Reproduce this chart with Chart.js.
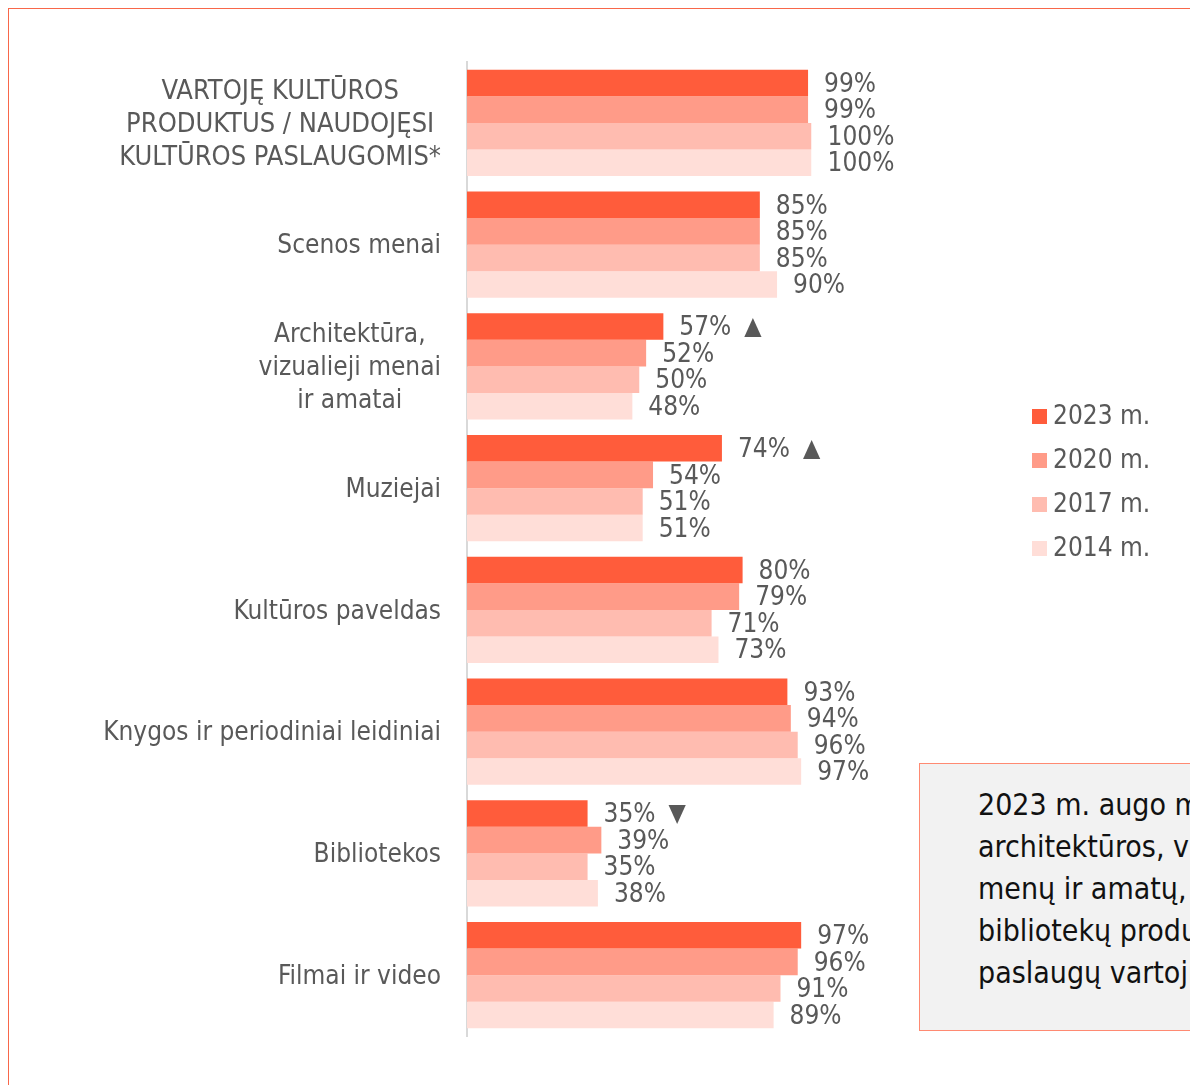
<!DOCTYPE html>
<html>
<head>
<meta charset="utf-8">
<script src="https://cdn.jsdelivr.net/npm/chart.js@4/dist/chart.umd.min.js"></script>
<style>
  html, body { margin: 0; padding: 0; background: #fff; overflow: hidden; width: 1190px; height: 1085px; }
  #frame { position: absolute; left: 8px; top: 8px; width: 1400px; height: 1300px; border: 1.5px solid #F8674A; box-sizing: border-box; }
  #wrap { position: absolute; left: 0; top: 0; width: 1190px; height: 1085px; }
  #note {
    position: absolute; left: 919px; top: 763px; width: 420px; height: 268px;
    background: #F2F2F2; border: 1.5px solid #FF8A72; box-sizing: border-box;
    font-family: "DejaVu Sans Condensed", "DejaVu Sans", sans-serif; font-size: 30px;
    line-height: 42px; color: #111; padding: 20px 0 0 58px; white-space: nowrap;
  }
</style>
</head>
<body>
<div id="frame"></div>
<div id="wrap"><canvas id="chart" width="1190" height="1085"></canvas></div>
<div id="note">2023 m. augo muziejų,<br>architektūros, vizualiųjų<br>menų ir amatų, o mažėjo<br>bibliotekų produktų ir<br>paslaugų vartojimas.</div>
<script>
document.addEventListener("DOMContentLoaded", function () {
  const ctx = document.getElementById('chart').getContext('2d');

  // categories (one entry per line of the label)
  const categories = [
    ['VARTOJĘ KULTŪROS', 'PRODUKTUS / NAUDOJĘSI', 'KULTŪROS PASLAUGOMIS*'],
    ['Scenos menai'],
    ['Architektūra,', 'vizualieji menai', 'ir amatai'],
    ['Muziejai'],
    ['Kultūros paveldas'],
    ['Knygos ir periodiniai leidiniai'],
    ['Bibliotekos'],
    ['Filmai ir video']
  ];
  const years = ['2023 m.', '2020 m.', '2017 m.', '2014 m.'];
  const values2023 = [99, 85, 57, 74, 80, 93, 35, 97];
  const values2020 = [99, 85, 52, 54, 79, 94, 39, 96];
  const values2017 = [100, 85, 50, 51, 71, 96, 35, 91];
  const values2014 = [100, 90, 48, 51, 73, 97, 38, 89];
  const trend2023 = ['', '', '▲', '▲', '', '', '▼', ''];
  const colors = ['#FF5C3B', '#FF9B88', '#FFBCB0', '#FFDED8'];

  const font = '"DejaVu Sans Condensed", "DejaVu Sans", sans-serif';
  const textColor = '#595959';

  const series = [values2023, values2020, values2017, values2014];

  // draws category labels, value labels and the legend
  const decorations = {
    id: 'decorations',
    afterDatasetsDraw(chart) {
      const c = chart.ctx;
      const yScale = chart.scales.y;
      c.save();
      c.fillStyle = textColor;
      c.textBaseline = 'middle';

      // category labels: block right-aligned, lines centered inside it
      const lineH = 33;
      categories.forEach(function (lines, i) {
        c.font = (lines.length > 1 && i === 0 ? '27px ' : '26px ') + font;
        const widest = Math.max.apply(null, lines.map(l => c.measureText(l).width));
        const cx = 441 - widest / 2;
        const y0 = yScale.getPixelForValue(i) - (lines.length - 1) * lineH / 2 + 2;
        c.textAlign = 'center';
        lines.forEach(function (l, k) { c.fillText(l, cx, y0 + k * lineH); });
      });

      // value labels
      c.textAlign = 'left';
      c.font = '26px ' + font;
      chart.data.datasets.forEach(function (ds, d) {
        const meta = chart.getDatasetMeta(d);
        meta.data.forEach(function (el, j) {
          const txt = ds.data[j] + '%';
          const x = el.x + 16;
          c.fillText(txt, x, el.y + 2);
          if (d === 0 && trend2023[j]) {
            const w = c.measureText(txt).width;
            c.font = '25px ' + font;
            c.fillText(trend2023[j], x + w + 13, el.y + 1);
            c.font = '26px ' + font;
          }
        });
      });

      // legend
      chart.data.datasets.forEach(function (ds, d) {
        const y = 416 + d * 44;
        c.fillStyle = ds.backgroundColor;
        c.fillRect(1032, y - 7, 15, 15);
        c.fillStyle = textColor;
        c.fillText(ds.label, 1053, y + 1);
      });
      c.restore();
    }
  };

  new Chart(ctx, {
    type: 'bar',
    data: {
      labels: categories.map(l => l.join(' ')),
      datasets: years.map(function (y, i) {
        return {
          label: y,
          data: series[i],
          backgroundColor: colors[i],
          categoryPercentage: 0.871,
          barPercentage: 1.0
        };
      })
    },
    options: {
      indexAxis: 'y',
      responsive: false,
      animation: false,
      devicePixelRatio: 1,
      layout: { padding: { left: 0, right: 378.5, top: 62, bottom: 49 } },
      plugins: {
        legend: { display: false },
        tooltip: { enabled: false }
      },
      scales: {
        x: { display: false, min: 0, max: 100 },
        y: {
          ticks: { display: false },
          grid: { display: false, drawTicks: false },
          border: { display: true, color: '#D9D9D9', width: 2 },
          afterFit: function (scale) { scale.width = 467; }
        }
      }
    },
    plugins: [decorations]
  });
});
</script>
</body>
</html>
